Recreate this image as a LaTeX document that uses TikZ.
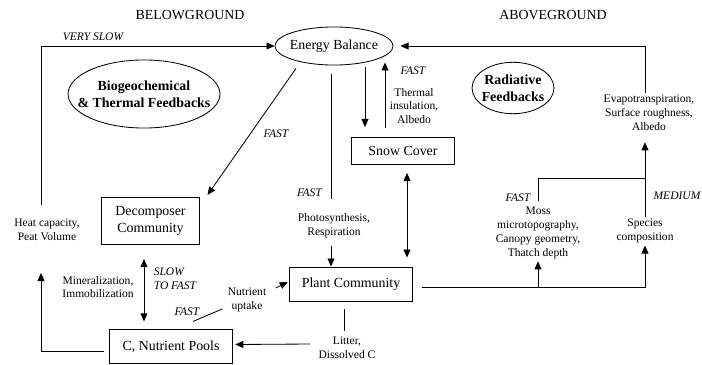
\documentclass[tikz,border=0pt]{standalone}
\usepackage{fontspec}
\setmainfont{Liberation Serif}
\usetikzlibrary{arrows.meta,calc,shapes.geometric}

\begin{document}
\begin{tikzpicture}[x=.72pt,y=-.72pt,font=\fontsize{10}{12}\selectfont,line width=.6pt,
  box/.style={draw,align=center,inner sep=0pt},
  oval/.style={draw,ellipse,inner sep=0pt},
  bold/.style={font=\fontsize{10}{12}\selectfont\bfseries,align=center},
  lbl/.style={font=\fontsize{8.3}{10}\selectfont,align=center,inner sep=1.5pt},
  tag/.style={font=\fontsize{8.3}{10}\selectfont\itshape,align=left,inner sep=1pt},
  arr/.style={-{Triangle[length=5.8pt,width=5pt]}},
  darr/.style={{Triangle[length=5.8pt,width=5pt]}-{Triangle[length=5.8pt,width=5pt]}}]
\useasboundingbox (0,0) rectangle (702,364);
\node (below) at (190,15) {BELOWGROUND};
\node (above) at (553,15) {ABOVEGROUND};
% ovals, text set on top
\node[oval,minimum width=85pt,minimum height=27.4pt] (eb) at (334,46) {};
\node (ebt) at (eb) {Energy Balance};
\node[oval,minimum width=109.4pt,minimum height=49pt] (bio) at (144,94) {};
\node[bold] (biot) at (bio) {Biogeochemical\\\& Thermal Feedbacks};
\node[oval,minimum width=59pt,minimum height=37pt] (rad) at (513,88) {};
\node[bold] (radt) at (rad) {Radiative\\Feedbacks};
% boxes
\node[box,minimum width=70pt,minimum height=34pt] (dec) at (150.5,221) {Decomposer\\Community};
\node[box,minimum width=89pt,minimum height=24pt] (pool) at (171,346.5) {C, Nutrient Pools};
\node[box,minimum width=89pt,minimum height=24.5pt] (plant) at (351,284) {Plant Community};
\node[box,minimum width=74pt,minimum height=19.5pt] (snow) at (403,151) {Snow Cover};
% rates and processes
\node[tag] (vslow) at (93,37) {VERY SLOW};
\foreach \n/\x/\y in {fast1/276/134,fast2/187/312,fast3/309.5/193,fast4/413/71,fast5/518/198}
  \node[tag] (\n) at (\x,\y) {FAST};
\node[tag] (medium) at (677,196) {MEDIUM};
\node[tag,anchor=west] (slow) at (152,279) {SLOW\\TO FAST};
\node[lbl] (heat) at (47,230) {Heat capacity,\\Peat Volume};
\node[lbl] (mineral) at (98,287) {Mineralization,\\Immobilization};
\node[lbl] (uptake) at (247,299.5) {Nutrient\\uptake};
\node[lbl] (photo) at (334,225.5) {Photosynthesis,\\Respiration};
\node[lbl] (thermal) at (414,106) {Thermal\\insulation,\\Albedo};
\node[lbl] (evapo) at (649,113) {Evapotranspiration,\\Surface roughness,\\Albedo};
\node[lbl] (moss) at (538,233) {Moss\\microtopography,\\Canopy geometry,\\Thatch depth};
\node[lbl] (species) at (645,231) {Species\\composition};
\node[lbl] (litter) at (347,348) {Litter,\\Dissolved C};
% belowground loop
\coordinate (hl) at (41,205);
\coordinate (hb) at (41,273);
\draw[arr] (hl) |- (eb.west);
\draw[arr] ($(pool.west)+(-5,5)$) -| (hb);
\draw[arr] ($(eb.south)+(-38,3)$) -- ($(dec.north east)+(8,-2)$);
\draw[darr] ($(dec.south)+(-6.5,14)$) -- ($(pool.north)+(-27,-8)$);
\draw ($(pool.north)+(22,-8)$) -- ($(uptake.south west)+(-3,-5)$);
\draw[arr] ($(uptake.north east)+(7,3)$) -- ($(plant.west)+(-1,-2)$);
\coordinate (lt) at ($(plant.south)+(-7,8)$);
\draw (lt) -- ($(lt |- litter.north)+(0,-4)$);
\draw[arr] ($(litter.west)+(-6,-4)$) -- ($(pool.east)+(2,-2)$);
% energy balance, snow, plants
\coordinate (ep) at ($(eb.south)+(-3,9)$);
\draw (ep) -- ($(ep |- photo.north)+(0,-12)$);
\draw[arr] ($(ep |- photo.south)+(0,6)$) -- (ep |- plant.north);
\draw[arr] ($(eb.south)+(31,2)$) -- ($(snow.north)+(-38,-10)$);
\draw[arr] ($(snow.north)+(-18,-9)$) -- ($(eb.south)+(51,-3)$);
\draw[darr] ($(snow.south)+(4,8)$) -- ($(plant.north)+(56,-9)$);
% aboveground loop
\coordinate (pr) at ($(plant.east)+(9,3)$);
\coordinate (jn) at (645,178);
\draw[arr] (pr) -| (species.south);
\draw[arr] (pr -| moss.south) -- (moss.south);
\draw ($(moss.north)+(0,-4)$) |- (jn);
\draw[arr] (species.north) -- ($(species.north |- evapo.south)+(0,9)$);
\draw[arr] (species.north |- evapo.north) |- ($(eb.east)+(7,0)$);
\end{tikzpicture}
\end{document}
